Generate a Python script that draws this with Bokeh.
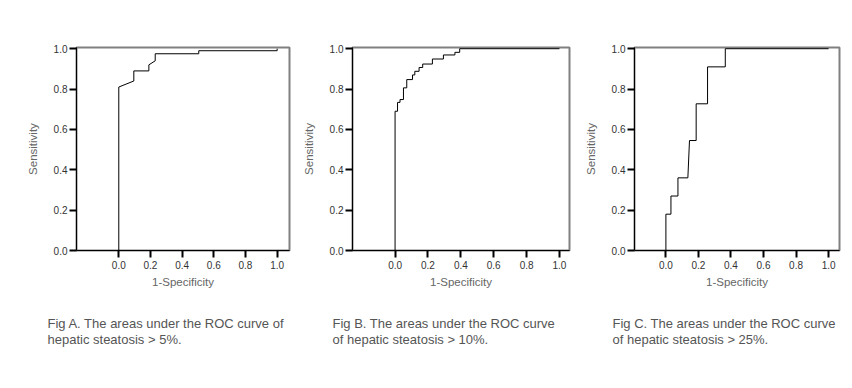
from bokeh.plotting import figure
from bokeh.layouts import row
from bokeh.models import Range1d, FixedTicker, PrintfTickFormatter, Title
from bokeh.embed import file_html
from bokeh.resources import INLINE

# ROC curve points (1-Specificity, Sensitivity)
fpr_a = [0.0, 0.0, 0.095, 0.095, 0.19, 0.19, 0.23, 0.23, 0.505, 0.505, 1.0, 1.0]
tpr_a = [0.0, 0.81, 0.84, 0.89, 0.89, 0.92, 0.94, 0.975, 0.975, 0.99, 0.99, 1.0]

fpr_b = [0.0, 0.0, 0.015, 0.015, 0.030, 0.030, 0.051, 0.051, 0.071, 0.071,
         0.106, 0.106, 0.120, 0.120, 0.146, 0.146, 0.168, 0.168, 0.227, 0.227,
         0.294, 0.294, 0.364, 0.364, 0.393, 0.393, 1.0]
tpr_b = [0.0, 0.69, 0.69, 0.734, 0.734, 0.748, 0.748, 0.806, 0.806, 0.847,
         0.847, 0.87, 0.87, 0.888, 0.888, 0.907, 0.907, 0.924, 0.924, 0.949,
         0.949, 0.969, 0.969, 0.982, 0.982, 1.0, 1.0]

fpr_c = [0.0, 0.0, 0.031, 0.031, 0.074, 0.074, 0.135, 0.145, 0.186, 0.186,
         0.256, 0.256, 0.365, 0.365, 1.0]
tpr_c = [0.0, 0.18, 0.18, 0.27, 0.27, 0.36, 0.36, 0.545, 0.545, 0.727,
         0.727, 0.91, 0.91, 1.0, 1.0]

ticks = [0.0, 0.2, 0.4, 0.6, 0.8, 1.0]
x_label = "1-Specificity"
y_label = "Sensitivity"
captions = [
    ["Fig A. The areas under the ROC curve of", "hepatic steatosis > 5%."],
    ["Fig B. The areas under the ROC curve", "of hepatic steatosis > 10%."],
    ["Fig C. The areas under the ROC curve", "of hepatic steatosis > 25%."],
]

FONT = "Liberation Sans"
H = 380

def panel(xs, ys, width, bl, br, xr, cap, cap_off):
    p = figure(width=width, height=H, output_backend="svg", toolbar_location=None,
               x_range=Range1d(*xr), y_range=Range1d(0, 1.006),
               min_border_left=bl, min_border_right=br, min_border_top=47,
               min_border_bottom=130)
    p.line(xs, ys, line_color="black", line_width=1)
    p.grid.visible = False
    p.outline_line_color = "#808080"
    p.outline_line_width = 2
    for ax in (p.xaxis[0], p.yaxis[0]):
        ax.ticker = FixedTicker(ticks=ticks)
        ax.formatter = PrintfTickFormatter(format="%.1f")
        ax.minor_tick_line_color = None
        ax.major_tick_in = 0
        ax.major_tick_out = 7
        ax.major_tick_line_width = 2
        ax.major_tick_line_color = "black"
        ax.axis_line_color = "black"
        ax.axis_line_width = 1
        ax.major_label_text_font = FONT
        ax.major_label_text_font_size = "10px"
        ax.major_label_text_color = "#333333"
        ax.axis_label_text_font = FONT
        ax.axis_label_text_font_size = "11.5px"
        ax.axis_label_text_font_style = "normal"
        ax.axis_label_text_color = "#666666"
    p.xaxis.axis_label = x_label
    p.yaxis.axis_label = y_label
    p.xaxis.major_label_standoff = 3
    p.yaxis.major_label_standoff = 2
    p.xaxis.axis_label_standoff = 4
    p.yaxis.axis_label_standoff = 12
    p.background_fill_color = "white"
    p.border_fill_color = "white"
    p.add_layout(Title(text="\n".join(cap), align="left", offset=cap_off, standoff=46,
                       text_font=FONT, text_font_size="13px", text_line_height=1.13,
                       text_font_style="normal", text_color="#555555"),
                 "below")
    return p

p1 = panel(fpr_a, tpr_a, 292, 76, 3, (-0.267, 1.078), captions[0], -29)
p2 = panel(fpr_b, tpr_b, 282, 60, 5, (-0.259, 1.061), captions[1], -20)
p3 = panel(fpr_c, tpr_c, 278, 60, 13, (-0.193, 1.067), captions[2], -22)

p = row(p1, p2, p3)
open("out.html", "w").write(file_html(p, INLINE))
